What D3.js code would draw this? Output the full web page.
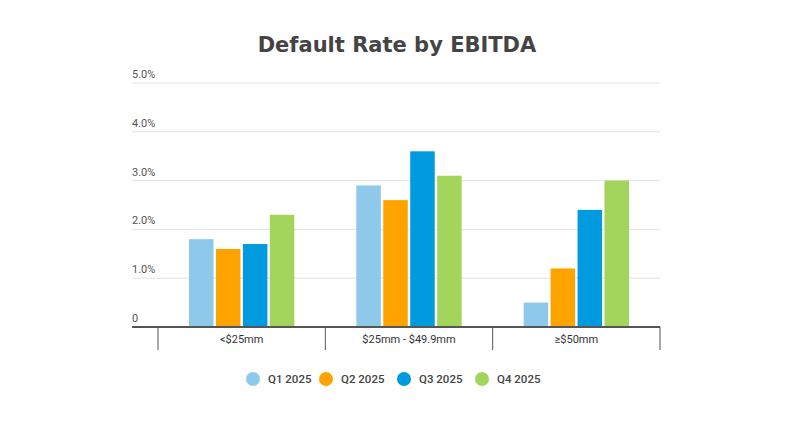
<!DOCTYPE html>
<html>
<head>
<meta charset="utf-8">
<script src="https://cdn.jsdelivr.net/npm/d3@7"></script>
<style>
  body { margin: 0; background: #fff; }
  svg { font-family: Roboto, sans-serif; }
</style>
</head>
<body>
<svg id="chart" width="800" height="430"></svg>
<script>
// data
var categories = ["<$25mm", "$25mm - $49.9mm", "≥$50mm"];
var seriesNames = ["Q1 2025", "Q2 2025", "Q3 2025", "Q4 2025"];
var q1 = [1.8, 2.9, 0.5];
var q2 = [1.6, 2.6, 1.2];
var q3 = [1.7, 3.6, 2.4];
var q4 = [2.3, 3.1, 3.0];
var yTicks = [0, 1, 2, 3, 4, 5];
var colors = ["#8ec8ea", "#ffa300", "#009ade", "#a3d55d"];

var seriesValues = [q1, q2, q3, q4];

var svg = d3.select("#chart");
var plotLeft = 132, plotRight = 660, plotTop = 83, plotBottom = 327;

var x0 = d3.scaleBand()
  .domain(categories)
  .range([158, plotRight]);

var x1 = d3.scaleBand()
  .domain(seriesNames)
  .range([31, x0.bandwidth() - 31])
  .paddingInner(0.09);

var y = d3.scaleLinear()
  .domain([0, 5])
  .range([plotBottom, plotTop]);

svg.append("text")
  .attr("x", 397)
  .attr("y", 52)
  .attr("text-anchor", "middle")
  .style("font-family", "'DejaVu Sans', Verdana, sans-serif")
  .style("font-weight", "bold")
  .style("font-size", "21px")
  .style("fill", "#444")
  .text("Default Rate by EBITDA");

// grid + labels
var grid = svg.append("g");
grid.selectAll("line")
  .data(yTicks.filter(function(d) { return d > 0; }))
  .enter().append("line")
  .attr("x1", plotLeft).attr("x2", plotRight)
  .attr("y1", function(d) { return y(d); })
  .attr("y2", function(d) { return y(d); })
  .style("stroke", "#e3e3e3")
  .style("stroke-width", 1);

grid.selectAll("text")
  .data(yTicks)
  .enter().append("text")
  .attr("x", plotLeft)
  .attr("y", function(d) { return y(d) - 5; })
  .style("font-size", "11px")
  .style("fill", "#555")
  .text(function(d) { return d === 0 ? "0" : d.toFixed(1) + "%"; });

// bars
var groups = svg.append("g").selectAll("g")
  .data(categories)
  .enter().append("g")
  .attr("transform", function(d) { return "translate(" + x0(d) + ",0)"; });

groups.selectAll("rect")
  .data(function(d, i) {
    return seriesNames.map(function(s, j) { return {s: s, v: seriesValues[j][i], c: colors[j]}; });
  })
  .enter().append("rect")
  .attr("x", function(d) { return x1(d.s); })
  .attr("width", x1.bandwidth())
  .attr("y", function(d) { return y(d.v); })
  .attr("height", function(d) { return y(0) - y(d.v); })
  .style("fill", function(d) { return d.c; });

// x axis
svg.append("line")
  .attr("x1", plotLeft).attr("x2", plotRight)
  .attr("y1", plotBottom).attr("y2", plotBottom)
  .style("stroke", "#555")
  .style("stroke-width", 2);

var tickXs = categories.map(function(c) { return x0(c); }).concat([plotRight]);
svg.append("g").selectAll("line")
  .data(tickXs)
  .enter().append("line")
  .attr("x1", function(d) { return d; })
  .attr("x2", function(d) { return d; })
  .attr("y1", plotBottom)
  .attr("y2", plotBottom + 23)
  .style("stroke", "#555")
  .style("stroke-width", 1);

svg.append("g").selectAll("text")
  .data(categories)
  .enter().append("text")
  .attr("x", function(d) { return x0(d) + x0.bandwidth() / 2; })
  .attr("y", plotBottom + 16)
  .attr("text-anchor", "middle")
  .style("font-size", "11px")
  .style("fill", "#333")
  .text(function(d) { return d; });

// legend
var legendX = [253, 326, 404, 482];
var legend = svg.append("g").selectAll("g")
  .data(seriesNames)
  .enter().append("g")
  .attr("transform", function(d, i) { return "translate(" + legendX[i] + ",379)"; });

legend.append("circle")
  .attr("r", 7)
  .style("fill", function(d, i) { return colors[i]; });

legend.append("text")
  .attr("x", 15)
  .attr("y", 4)
  .style("font-size", "11.5px")
  .style("font-weight", "500")
  .style("fill", "#444")
  .text(function(d) { return d; });
</script>
</body>
</html>
